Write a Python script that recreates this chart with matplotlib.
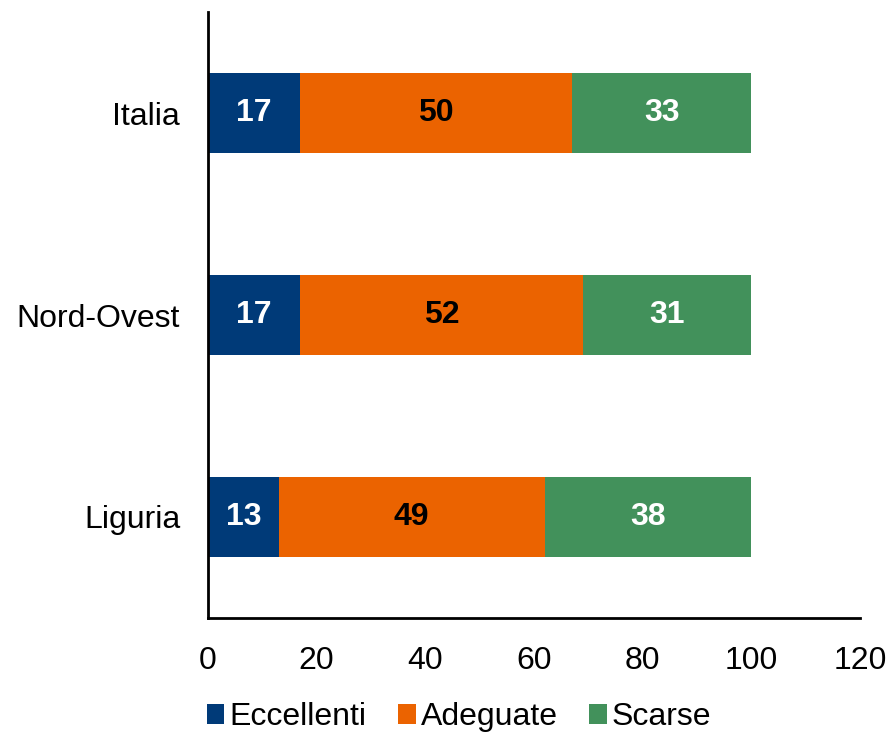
import matplotlib

matplotlib.use("Agg")
matplotlib.rcParams["font.family"] = ["Liberation Sans", "DejaVu Sans"]
import matplotlib.pyplot as plt
import numpy as np

regions = ["Italia", "Nord-Ovest", "Liguria"]
eccellenti = [17, 17, 13]
adeguate = [50, 52, 49]
scarse = [33, 31, 38]

series = [
    ("Eccellenti", eccellenti, "#003A78", "white"),
    ("Adeguate", adeguate, "#EB6300", "black"),
    ("Scarse", scarse, "#42915B", "white"),
]

fig = plt.figure(figsize=(8.9, 7.33), dpi=100)
ax = fig.add_axes([0.2337, 0.1569, 0.7326, 0.8267])

y = np.arange(len(regions))[::-1]
left = np.zeros(len(regions))
for name, vals, color, txt in series:
    vals = np.array(vals, dtype=float)
    bars = ax.barh(y, vals, left=left, height=0.4, color=color, label=name)
    for b, v in zip(bars, vals):
        ax.text(b.get_x() + b.get_width() / 2, b.get_y() + b.get_height() / 2,
                f"{v:.0f}", ha="center", va="center", color=txt,
                fontsize=23, fontweight="bold")
    left += vals

ax.set_xlim(0, 120)
ax.set_ylim(-0.5, 2.5)
ax.set_xticks(range(0, 121, 20))
ax.set_yticks(y)
ax.set_yticklabels(regions)
ax.tick_params(axis="both", length=0, labelsize=23)
ax.tick_params(axis="x", pad=20)
ax.tick_params(axis="y", pad=20)
for s in ["top", "right"]:
    ax.spines[s].set_visible(False)
for s in ["left", "bottom"]:
    ax.spines[s].set_linewidth(2)

ax.legend(loc="upper center", bbox_to_anchor=(0.385, -0.118), ncol=3, frameon=False,
          fontsize=23, handlelength=0.55, handleheight=0.55, handletextpad=0.15,
          columnspacing=1.0, borderaxespad=0)

fig.savefig("out.png", dpi=100)
